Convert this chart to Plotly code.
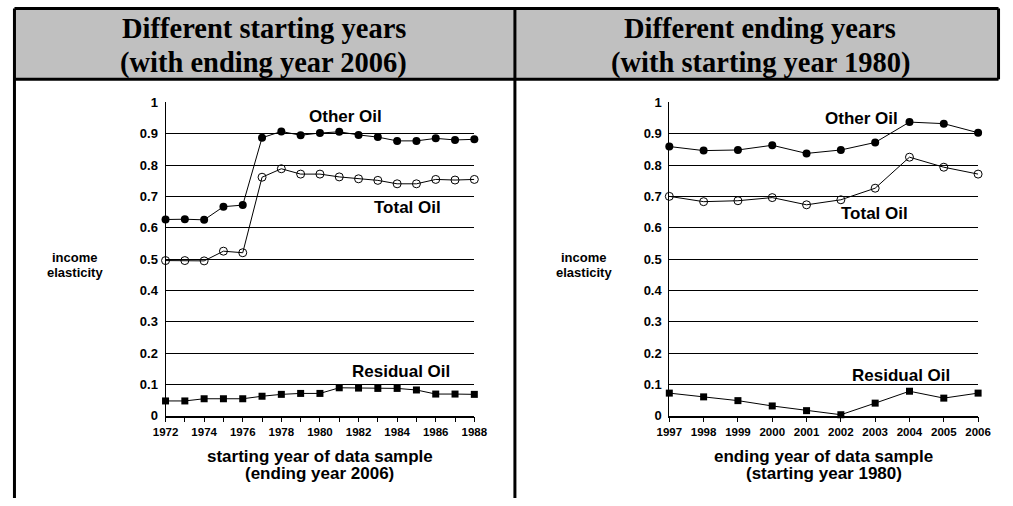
import plotly.graph_objects as go

# Canvas size, and the page scale/offset it ends up displayed at
W, H = 1013, 506
MARGIN = 8
SX = W / (W + 2 * MARGIN)
SY = H / (H + 2 * MARGIN)

# Panel 1: different starting years, sample ends in 2006
start_years = list(range(1972, 1989))
start_other = [0.626, 0.627, 0.625, 0.667, 0.672, 0.887, 0.907, 0.895, 0.902,
               0.906, 0.896, 0.889, 0.877, 0.877, 0.885, 0.880, 0.882]
start_total = [0.495, 0.495, 0.494, 0.525, 0.520, 0.761, 0.788, 0.771, 0.771,
               0.762, 0.756, 0.751, 0.740, 0.740, 0.754, 0.752, 0.754]
start_resid = [0.047, 0.047, 0.054, 0.054, 0.054, 0.062, 0.068, 0.071, 0.071,
               0.089, 0.088, 0.087, 0.087, 0.082, 0.069, 0.069, 0.068]
start_tick_text = [str(y) if (y - 1972) % 2 == 0 else "" for y in start_years]

# Panel 2: different ending years, sample starts in 1980
end_years = list(range(1997, 2007))
end_other = [0.859, 0.846, 0.848, 0.863, 0.837, 0.848, 0.872, 0.937, 0.932, 0.903]
end_total = [0.700, 0.683, 0.686, 0.696, 0.673, 0.689, 0.726, 0.825, 0.793, 0.771]
end_resid = [0.072, 0.060, 0.048, 0.031, 0.016, 0.003, 0.040, 0.078, 0.056, 0.072]
end_tick_text = [str(y) for y in end_years]

y_ticks = [i / 10 for i in range(11)]
y_tick_text = ["0"] + ["0.%d" % i for i in range(1, 10)] + ["1"]

headers = [
    ("Different starting years", "(with ending year 2006)"),
    ("Different ending years", "(with starting year 1980)"),
]
x_titles = [
    ("starting year of data sample", "(ending year 2006)"),
    ("ending year of data sample", "(starting year 1980)"),
]
y_title = ("income", "elasticity")
series_names = ["Other Oil", "Total Oil", "Residual Oil"]


def fx(s):
    """Screen column -> canvas pixel."""
    return s / SX - MARGIN


def fy(s):
    """Screen row -> canvas pixel."""
    return s / SY - MARGIN


def px(s):
    return fx(s) / W


def py(s):
    return 1 - fy(s) / H


SANS = "Liberation Sans"
SERIF = "Liberation Serif"

fig = go.Figure()

marker_styles = [
    dict(symbol="circle", size=8, color="black"),
    dict(symbol="circle-open", size=8, color="black", line=dict(width=1, color="black")),
    dict(symbol="square", size=7, color="black"),
]

panels = [
    ("x", "y", start_years, [start_other, start_total, start_resid]),
    ("x2", "y2", end_years, [end_other, end_total, end_resid]),
]
for xa, ya, years, series in panels:
    for name, vals, mk in zip(series_names, series, marker_styles):
        fig.add_trace(go.Scatter(
            x=years, y=vals, name=name, mode="lines+markers",
            line=dict(color="black", width=1), marker=mk,
            xaxis=xa, yaxis=ya, cliponaxis=False, showlegend=False,
        ))

axis_common = dict(
    showline=True, linecolor="black", linewidth=1.5,
    zeroline=False, showgrid=False,
    ticks="outside", ticklen=5, tickcolor="black", tickwidth=1,
    tickfont=dict(family=SANS, size=11.5, color="black", weight="bold"),
)
yaxis_common = dict(
    range=[0, 1], tickvals=y_ticks, ticktext=y_tick_text,
    showline=True, linecolor="black", linewidth=1,
    showgrid=True, gridcolor="black", gridwidth=1, zeroline=False,
    ticks="", ticklabelstandoff=4,
    tickfont=dict(family=SANS, size=13, color="black", weight="bold"),
    domain=[py(416), py(103)],
)

fig.update_layout(
    width=W, height=H, margin=dict(l=0, r=0, t=0, b=0),
    paper_bgcolor="white", plot_bgcolor="white",
    xaxis=dict(axis_common, range=[1972, 1988], tickvals=start_years,
               ticktext=start_tick_text, domain=[px(162), px(474)], anchor="y"),
    yaxis=dict(yaxis_common, anchor="x"),
    xaxis2=dict(axis_common, range=[1997, 2006], tickvals=end_years,
                ticktext=end_tick_text, domain=[px(671), px(983)], anchor="y2"),
    yaxis2=dict(yaxis_common, anchor="x2"),
)

# Table frame: grey header band and black rules (outer ones on the canvas edge)
xl, xr = 1.5 / W, 1 - 1.5 / W
yt, yb = 1 - 1.5 / H, 0.0
shapes = [
    dict(type="rect", xref="paper", yref="paper", x0=xl, x1=xr,
         y0=py(80), y1=yt, fillcolor="#c0c0c0", line=dict(width=0), layer="below"),
]
rules = [
    (xl, yt, xr, yt), (xl, py(80), xr, py(80)),
    (xl, yt, xl, yb), (px(515), yt, px(515), yb), (xr, yt, xr, py(80)),
]
for x0, y0, x1, y1 in rules:
    shapes.append(dict(type="line", xref="paper", yref="paper",
                       x0=x0, y0=y0, x1=x1, y1=y1,
                       line=dict(color="black", width=3)))
fig.update_layout(shapes=shapes)

ann = []


def text(x, y, s, size, family=SANS, xref="paper", yref="paper"):
    ann.append(dict(x=x, y=y, xref=xref, yref=yref, text=s, showarrow=False,
                    xanchor="center", yanchor="middle",
                    font=dict(family=family, size=size, color="black", weight="bold")))


# Header text
for cx, (l1, l2) in zip([261, 763], headers):
    text(px(cx), py(29.5), l1, 28.5, SERIF)
    text(px(cx), py(63.5), l2, 28.5, SERIF)

# Axis titles
for cx, (l1, l2) in zip([318, 827], x_titles):
    text(px(cx), py(457), l1, 17)
    text(px(cx), py(474), l2, 17)
for cx in [71, 585]:
    text(px(cx), py(258), y_title[0], 13)
    text(px(cx), py(273), y_title[1], 13)

# Series labels placed beside their lines
left_labels = [(1981.3, 0.956), (1984.56, 0.665), (1984.2, 0.1415)]
right_labels = [(2002.6, 0.950), (2002.98, 0.645), (2003.75, 0.128)]
for name, (lx, ly) in zip(series_names, left_labels):
    text(lx, ly, name, 17, xref="x", yref="y")
for name, (lx, ly) in zip(series_names, right_labels):
    text(lx, ly, name, 17, xref="x2", yref="y2")

fig.update_layout(annotations=ann)

fig.write_html("out.html")
